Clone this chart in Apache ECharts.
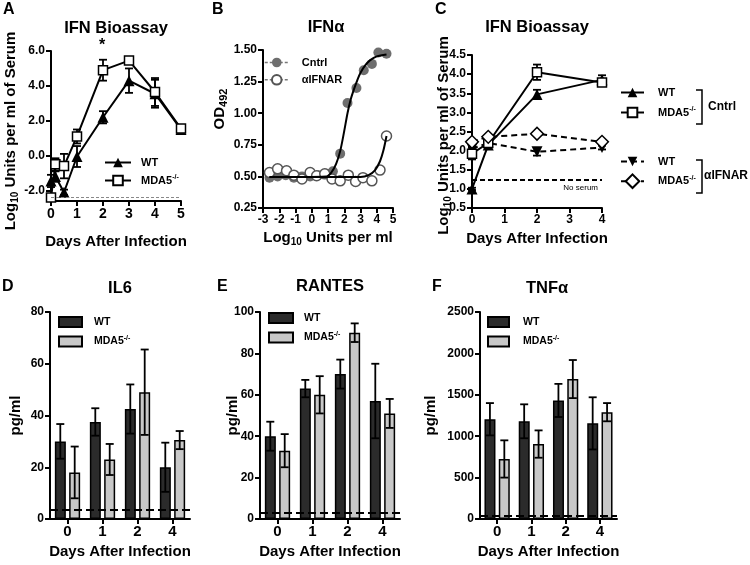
<!DOCTYPE html>
<html>
<head>
<meta charset="utf-8">
<script src="https://cdn.jsdelivr.net/npm/echarts@6/dist/echarts.min.js"></script>
<style>
html, body { margin: 0; padding: 0; background: #fff; }
#content { width: 750px; height: 565px; }
</style>
</head>
<body>
<div id="content"></div>
<script>
// Panel A - IFN bioassay time course
var aDays = [0, 0.17, 0.5, 1, 2, 3, 4, 5];
var aWT = [-1.45, -1.2, -2.1, -0.05, 2.2, 4.3, 3.55, 1.5];
var aWTerr = [0.35, 0.3, 0.15, 0.6, 0.35, 0.7, 0.8, 0.1];
var aMDA = [-2.4, -0.5, -0.6, 1.1, 4.9, 5.45, 3.65, 1.55];
var aMDAerr = [0.1, 0.35, 0.7, 0.4, 0.6, 0.1, 0.8, 0.1];
var aLimit = -2.4;
var aTicks = [-2, 0, 2, 4, 6];

// Panel B - IFNa standard curve
var bCntrlX = [-2.6, -2.1, -1.6, -1.1, -0.6, -0.1, 0.4, 0.9, 1.3, 1.75, 2.2, 2.75, 3.2, 3.7, 4.1, 4.6];
var bCntrlY = [0.49, 0.50, 0.51, 0.49, 0.50, 0.50, 0.51, 0.52, 0.54, 0.68, 1.08, 1.20, 1.34, 1.39, 1.48, 1.47];
var bIfnarX = [-2.6, -2.1, -1.55, -1.1, -0.6, -0.1, 0.3, 0.8, 1.25, 1.75, 2.25, 2.7, 3.15, 3.7, 4.2, 4.6];
var bIfnarY = [0.53, 0.56, 0.545, 0.51, 0.48, 0.53, 0.505, 0.52, 0.48, 0.465, 0.51, 0.46, 0.49, 0.465, 0.55, 0.82];
var bCntrlFitX = [-2.6, 0.9, 1.2, 1.5, 1.75, 2.0, 2.2, 2.4, 2.6, 2.8, 3.0, 3.3, 3.6, 4.0, 4.6];
var bCntrlFitY = [0.495, 0.50, 0.53, 0.60, 0.70, 0.86, 1.0, 1.11, 1.19, 1.26, 1.32, 1.38, 1.42, 1.45, 1.465];
var bIfnarFitX = [-2.6, 3.0, 3.5, 3.9, 4.2, 4.4, 4.6];
var bIfnarFitY = [0.495, 0.495, 0.51, 0.55, 0.62, 0.70, 0.82];

// Panel C - IFN bioassay with anti-IFNAR
var cDays = [0, 0.5, 2, 4];
var cWT = [1.0, 2.15, 3.47, 3.85];
var cWTerr = [0.03, 0.05, 0.12, 0.12];
var cMDA = [1.92, 2.2, 4.05, 3.78];
var cMDAerr = [0.15, 0.05, 0.2, 0.08];
var cWTifnar = [2.05, 2.2, 1.97, 2.08];
var cWTifnarErr = [0.05, 0.05, 0.1, 0.05];
var cMDAifnar = [2.23, 2.36, 2.44, 2.23];
var cMDAifnarErr = [0.05, 0.05, 0.05, 0.05];
var cNoSerum = 1.25;

// Panels D-F - cytokines
var days = ['0', '1', '2', '4'];
var il6WT = [30, 37.5, 42.5, 20];
var il6WTerr = [6.7, 5.3, 9.5, 9.5];
var il6MDA = [18, 23, 49, 30.5];
var il6MDAerr = [10, 6, 16.5, 3.5];
var il6Limit = 3.6;
var rantesWT = [40, 63, 70, 57];
var rantesWTerr = [7, 4.2, 7, 18];
var rantesMDA = [33, 60, 90, 51];
var rantesMDAerr = [8, 9, 4.5, 7];
var rantesLimit = 3.2;
var tnfWT = [1205, 1180, 1432, 1155];
var tnfWTerr = [195, 205, 200, 315];
var tnfMDA = [725, 905, 1690, 1290];
var tnfMDAerr = [225, 165, 230, 110];
var tnfLimit = 35;

var FONT = '"Liberation Sans", Arial, Helvetica, sans-serif';

function pairs(xs, ys) {
    return xs.map(function (x, i) { return [x, ys[i]]; });
}

function capLines(x, y1, y2, cap) {
    var st = {stroke: '#000', lineWidth: 1.8};
    return {
        type: 'group',
        children: [
            {type: 'line', shape: {x1: x, y1: y1, x2: x, y2: y2}, style: st},
            {type: 'line', shape: {x1: x - cap, y1: y1, x2: x + cap, y2: y1}, style: st},
            {type: 'line', shape: {x1: x - cap, y1: y2, x2: x + cap, y2: y2}, style: st}
        ]
    };
}

function xyErr(grid, xs, ys, es) {
    return {
        type: 'custom', xAxisIndex: grid, yAxisIndex: grid, z: 1, silent: true,
        encode: {x: 0, y: 1},
        data: xs.map(function (x, i) { return [x, ys[i], es[i]]; }),
        renderItem: function (params, api) {
            var x = api.value(0), m = api.value(1), e = api.value(2);
            var top = api.coord([x, m + e]);
            var bot = api.coord([x, m - e]);
            return capLines(top[0], top[1], bot[1], 4);
        }
    };
}

function barErr(grid, vals, errs, offset) {
    return {
        type: 'custom', xAxisIndex: grid, yAxisIndex: grid, z: 5, silent: true,
        encode: {x: 0, y: 1},
        data: vals.map(function (v, i) { return [i, v, errs[i]]; }),
        renderItem: function (params, api) {
            var c = api.value(0), m = api.value(1), e = api.value(2);
            var top = api.coord([c, m + e]);
            var bot = api.coord([c, m - e]);
            return capLines(top[0] + offset, top[1], bot[1], 4);
        }
    };
}

function limitLine(v, color, width, dash) {
    return {
        silent: true, symbol: 'none', animation: false,
        label: {show: false},
        lineStyle: {color: color, width: width, type: dash},
        data: [{yAxis: v}]
    };
}

var nameRich = {
    m: {fontSize: 15, fontWeight: 'bold', fontFamily: FONT, color: '#000', lineHeight: 18, verticalAlign: 'middle'},
    s: {fontSize: 10, fontWeight: 'bold', fontFamily: FONT, color: '#000', lineHeight: 10, verticalAlign: 'bottom'},
    s2: {fontSize: 11, fontWeight: 'bold', fontFamily: FONT, color: '#000', lineHeight: 11, verticalAlign: 'bottom'}
};

function axis(grid, o) {
    var a = {
        gridIndex: grid,
        type: o.type || 'value',
        min: o.min, max: o.max, interval: o.interval,
        data: o.data,
        axisLine: {show: true, onZero: false, lineStyle: {color: '#000', width: 2}},
        axisTick: {show: true, length: 5, alignWithLabel: true, lineStyle: {color: '#000', width: 2}},
        axisLabel: {color: '#000', fontWeight: 'bold', fontFamily: FONT, fontSize: o.fontSize || 12,
                    margin: o.margin || 6, formatter: o.formatter || function (v) { return String(v); }},
        splitLine: {show: false},
        name: o.name, nameLocation: 'middle', nameGap: o.nameGap, nameMoveOverlap: false,
        nameTextStyle: {color: '#000', fontFamily: FONT, fontWeight: 'bold', fontSize: 15,
                        padding: o.namePadding || 0, rich: nameRich}
    };
    if (o.ticks) {
        a.axisLabel.customValues = o.ticks;
        a.axisTick.customValues = o.ticks;
    }
    if (o.type === 'category') {
        a.boundaryGap = true;
        a.axisLabel.formatter = null;
    }
    return a;
}

var legendNames = {
    aWT: 'WT', aMDA: 'MDA5', bCntrl: 'Cntrl', bIfnar: '\u03b1IFNAR',
    cWT: 'WT', cMDA: 'MDA5', cWTi: 'WT', cMDAi: 'MDA5',
    dWT: 'WT', dMDA: 'MDA5', eWT: 'WT', eMDA: 'MDA5', fWT: 'WT', fMDA: 'MDA5'
};

function legendFmt(name) {
    var n = legendNames[name];
    return n === 'MDA5' ? '{m|MDA5}{s|-/-}' : '{m|' + n + '}';
}

function legend(names, left, top, o) {
    return {
        data: names, left: left, top: top, orient: 'vertical', selectedMode: false, padding: 0,
        itemWidth: o.w, itemHeight: o.h, itemGap: o.gap, icon: o.icon,
        formatter: legendFmt,
        textStyle: {
            padding: [0, 0, 0, o.pad],
            rich: {
                m: {fontSize: o.size, fontWeight: 'bold', fontFamily: FONT, color: '#000', lineHeight: 13, verticalAlign: 'middle'},
                s: {fontSize: 7, fontWeight: 'bold', fontFamily: FONT, color: '#000', lineHeight: 7, verticalAlign: 'top'}
            }
        }
    };
}

function txt(t, x, y, size, align) {
    return {
        type: 'text', x: x, y: y, silent: true,
        style: {text: t, font: 'bold ' + size + 'px ' + FONT, fill: '#000',
                align: align || 'center', verticalAlign: 'middle'}
    };
}

function bracket(x, y1, y2) {
    return {
        type: 'polyline', silent: true,
        shape: {points: [[x - 6, y1], [x, y1], [x, y2], [x - 6, y2]]},
        style: {stroke: '#000', lineWidth: 1.5, fill: null}
    };
}

var solid = {color: '#000', width: 2};
var dashed = {color: '#000', width: 2, type: [6, 4]};
var openSym = {color: '#fff', borderColor: '#000', borderWidth: 1.5};
var darkBar = {color: '#2b2b2b', borderColor: '#000', borderWidth: 1.5};
var lightBar = {color: '#c8c8c8', borderColor: '#000', borderWidth: 1.5};

var myChart = echarts.init(document.getElementById('content'), null, {renderer: 'canvas'});
myChart.setOption({
    animation: false,
    backgroundColor: '#fff',
    textStyle: {fontFamily: FONT},
    grid: [
        {left: 51, top: 51, width: 130, height: 150, outerBoundsMode: 'none'},
        {left: 263, top: 50, width: 130, height: 158, outerBoundsMode: 'none'},
        {left: 472, top: 55, width: 130, height: 153, outerBoundsMode: 'none'},
        {left: 50, top: 312, width: 140, height: 207, outerBoundsMode: 'none'},
        {left: 260, top: 312, width: 140, height: 207, outerBoundsMode: 'none'},
        {left: 480, top: 312, width: 137, height: 207, outerBoundsMode: 'none'}
    ],
    xAxis: [
        axis(0, {min: 0, max: 5, interval: 1, fontSize: 14, name: 'Days After Infection', nameGap: 33}),
        axis(1, {min: -3, max: 5, interval: 1, fontSize: 12, name: '{m|Log}{s|10}{m| Units per ml}', nameGap: 21}),
        axis(2, {min: 0, max: 4, interval: 1, fontSize: 12, name: 'Days After Infection', nameGap: 23}),
        axis(3, {type: 'category', data: days, fontSize: 15, margin: 5, name: 'Days After Infection', nameGap: 25}),
        axis(4, {type: 'category', data: days, fontSize: 15, margin: 5, name: 'Days After Infection', nameGap: 25}),
        axis(5, {type: 'category', data: days, fontSize: 15, margin: 5, name: 'Days After Infection', nameGap: 25})
    ],
    yAxis: [
        axis(0, {min: -2.6, max: 6, ticks: aTicks, formatter: function (v) { return v.toFixed(1); },
                 name: '{m|Log}{s|10}{m| Units per ml of Serum}', nameGap: 31, namePadding: [0, 10, 0, 0]}),
        axis(1, {min: 0.25, max: 1.5, interval: 0.25, formatter: function (v) { return v.toFixed(2); },
                 name: '{m|OD}{s2|492}', nameGap: 34, namePadding: [0, 0, 0, 40]}),
        axis(2, {min: 0.5, max: 4.5, interval: 0.5, formatter: function (v) { return v.toFixed(1); },
                 name: '{m|Log}{s|10}{m| Units per ml of Serum}', nameGap: 19, namePadding: [0, 8, 0, 0]}),
        axis(3, {min: 0, max: 80, interval: 20, name: 'pg/ml', nameGap: 27}),
        axis(4, {min: 0, max: 100, interval: 20, name: 'pg/ml', nameGap: 20}),
        axis(5, {min: 0, max: 2500, interval: 500, name: 'pg/ml', nameGap: 42})
    ],
    legend: [
        legend(['aWT', 'aMDA'], 104, 157, {w: 26, h: 12, gap: 6, pad: 5, size: 11}),
        legend([
            {name: 'bCntrl', lineStyle: {width: 1.5, color: '#777', type: [3, 2], opacity: 1}},
            {name: 'bIfnar', lineStyle: {width: 1.5, color: '#777', type: [3, 2], opacity: 1}}
        ], 264, 57, {w: 24, h: 12, gap: 6, pad: 8, size: 11}),
        legend(['cWT', 'cMDA'], 620, 87, {w: 23, h: 12, gap: 8, pad: 9, size: 11}),
        legend(['cWTi', 'cMDAi'], 620, 156, {w: 23, h: 12, gap: 6, pad: 9, size: 11}),
        legend(['dWT', 'dMDA'], 58, 316, {w: 23, h: 10, gap: 7, pad: 7, size: 10.5, icon: 'rect'}),
        legend(['eWT', 'eMDA'], 268, 312, {w: 24, h: 10, gap: 7, pad: 6, size: 10.5, icon: 'rect'}),
        legend(['fWT', 'fMDA'], 487, 316, {w: 21, h: 10, gap: 7, pad: 9, size: 10.5, icon: 'rect'})
    ],
    graphic: [
        txt('A', 3, 10, 16, 'left'), txt('B', 212, 10, 16, 'left'), txt('C', 435, 10, 16, 'left'),
        txt('D', 2, 287, 16, 'left'), txt('E', 217, 287, 16, 'left'), txt('F', 432, 287, 16, 'left'),
        txt('IFN Bioassay', 116, 28, 16.5), txt('IFN\u03b1', 326, 27, 16.5), txt('IFN Bioassay', 537, 27, 16.5),
        txt('IL6', 120, 288, 16.5), txt('RANTES', 330, 286, 16.5), txt('TNF\u03b1', 547, 288, 16.5),
        txt('*', 102, 46, 16),
        bracket(702, 90, 124), bracket(702, 160, 193),
        txt('Cntrl', 708, 107, 12, 'left'), txt('\u03b1IFNAR', 704, 176, 12, 'left')
    ],
    series: [
        // A
        xyErr(0, aDays, aWT, aWTerr),
        xyErr(0, aDays, aMDA, aMDAerr),
        {name: 'aWT', type: 'line', xAxisIndex: 0, yAxisIndex: 0, data: pairs(aDays, aWT), z: 3,
         symbol: 'triangle', symbolSize: 11, lineStyle: solid, itemStyle: {color: '#000'},
         markLine: limitLine(aLimit, '#888', 1.2, [3, 2])},
        {name: 'aMDA', type: 'line', xAxisIndex: 0, yAxisIndex: 0, data: pairs(aDays, aMDA), z: 4,
         symbol: 'rect', symbolSize: 9, lineStyle: solid, itemStyle: openSym},
        // B
        {type: 'line', xAxisIndex: 1, yAxisIndex: 1, data: pairs(bCntrlFitX, bCntrlFitY), smooth: 0.3,
         showSymbol: false, lineStyle: solid, z: 3, silent: true},
        {type: 'line', xAxisIndex: 1, yAxisIndex: 1, data: pairs(bIfnarFitX, bIfnarFitY), smooth: 0.3,
         showSymbol: false, lineStyle: solid, z: 3, silent: true},
        {name: 'bCntrl', type: 'line', xAxisIndex: 1, yAxisIndex: 1, data: pairs(bCntrlX, bCntrlY), z: 2,
         symbol: 'circle', symbolSize: 10, lineStyle: {width: 0, opacity: 0}, itemStyle: {color: '#6e6e6e'}},
        {name: 'bIfnar', type: 'line', xAxisIndex: 1, yAxisIndex: 1, data: pairs(bIfnarX, bIfnarY), z: 2,
         symbol: 'circle', symbolSize: 10, lineStyle: {width: 0, opacity: 0},
         itemStyle: {color: '#fff', borderColor: '#555', borderWidth: 1.5}},
        // C
        xyErr(2, cDays, cWT, cWTerr),
        xyErr(2, cDays, cMDA, cMDAerr),
        xyErr(2, cDays, cWTifnar, cWTifnarErr),
        xyErr(2, cDays, cMDAifnar, cMDAifnarErr),
        {name: 'cWT', type: 'line', xAxisIndex: 2, yAxisIndex: 2, data: pairs(cDays, cWT), z: 3,
         symbol: 'triangle', symbolSize: 11, lineStyle: solid, itemStyle: {color: '#000'},
         markLine: {silent: true, symbol: 'none', lineStyle: {color: '#000', width: 2, type: [5, 3]},
                    label: {show: true, formatter: 'No serum', position: 'insideEndBottom', fontSize: 8,
                            color: '#000', fontFamily: FONT, distance: 4},
                    data: [{yAxis: cNoSerum}]}},
        {name: 'cMDA', type: 'line', xAxisIndex: 2, yAxisIndex: 2, data: pairs(cDays, cMDA), z: 4,
         symbol: 'rect', symbolSize: 9, lineStyle: solid, itemStyle: openSym},
        {name: 'cWTi', type: 'line', xAxisIndex: 2, yAxisIndex: 2, data: pairs(cDays, cWTifnar), z: 3,
         symbol: 'triangle', symbolRotate: 180, symbolSize: 11, lineStyle: dashed, itemStyle: {color: '#000'}},
        {name: 'cMDAi', type: 'line', xAxisIndex: 2, yAxisIndex: 2, data: pairs(cDays, cMDAifnar), z: 4,
         symbol: 'rect', symbolRotate: 45, symbolSize: 9, lineStyle: dashed, itemStyle: openSym},
        // D
        {name: 'dWT', type: 'bar', xAxisIndex: 3, yAxisIndex: 3, data: il6WT, barWidth: 11, barGap: '30%',
         itemStyle: darkBar, markLine: limitLine(il6Limit, '#000', 2, [8, 4])},
        {name: 'dMDA', type: 'bar', xAxisIndex: 3, yAxisIndex: 3, data: il6MDA, barWidth: 11, barGap: '30%',
         itemStyle: lightBar},
        barErr(3, il6WT, il6WTerr, -7.2),
        barErr(3, il6MDA, il6MDAerr, 7.2),
        // E
        {name: 'eWT', type: 'bar', xAxisIndex: 4, yAxisIndex: 4, data: rantesWT, barWidth: 11, barGap: '30%',
         itemStyle: darkBar, markLine: limitLine(rantesLimit, '#000', 2, [8, 4])},
        {name: 'eMDA', type: 'bar', xAxisIndex: 4, yAxisIndex: 4, data: rantesMDA, barWidth: 11, barGap: '30%',
         itemStyle: lightBar},
        barErr(4, rantesWT, rantesWTerr, -7.2),
        barErr(4, rantesMDA, rantesMDAerr, 7.2),
        // F
        {name: 'fWT', type: 'bar', xAxisIndex: 5, yAxisIndex: 5, data: tnfWT, barWidth: 11, barGap: '30%',
         itemStyle: darkBar, markLine: limitLine(tnfLimit, '#000', 2, [8, 4])},
        {name: 'fMDA', type: 'bar', xAxisIndex: 5, yAxisIndex: 5, data: tnfMDA, barWidth: 11, barGap: '30%',
         itemStyle: lightBar},
        barErr(5, tnfWT, tnfWTerr, -7.2),
        barErr(5, tnfMDA, tnfMDAerr, 7.2)
    ]
});
</script>
</body>
</html>
